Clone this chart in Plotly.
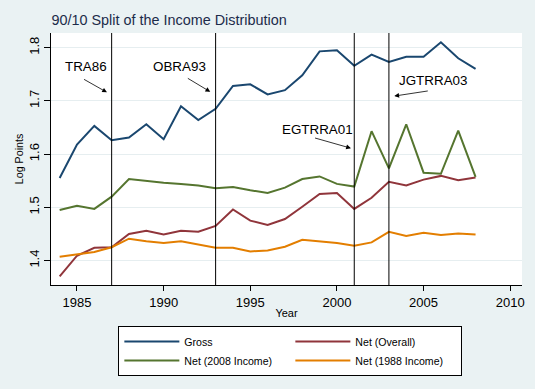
import plotly.graph_objects as go

years = list(range(1984, 2009))
gross = [1.555, 1.618, 1.653, 1.626, 1.631, 1.656, 1.628, 1.690, 1.664, 1.685,
         1.728, 1.731, 1.712, 1.720, 1.748, 1.793, 1.795, 1.766, 1.787, 1.773,
         1.783, 1.783, 1.810, 1.780, 1.760]
net_overall = [1.370, 1.409, 1.424, 1.425, 1.450, 1.456, 1.449, 1.456, 1.454, 1.465,
               1.496, 1.475, 1.467, 1.478, 1.501, 1.525, 1.527, 1.497, 1.518, 1.548,
               1.541, 1.552, 1.559, 1.551, 1.556]
net_2008 = [1.495, 1.503, 1.497, 1.520, 1.553, 1.549, 1.546, 1.544, 1.541, 1.536,
            1.538, 1.532, 1.527, 1.537, 1.553, 1.558, 1.544, 1.539, 1.643, 1.573,
            1.656, 1.565, 1.563, 1.644, 1.557]
net_1988 = [1.407, 1.412, 1.416, 1.425, 1.441, 1.436, 1.433, 1.436, 1.430, 1.424,
            1.424, 1.417, 1.419, 1.426, 1.439, 1.436, 1.433, 1.428, 1.434, 1.454,
            1.446, 1.452, 1.448, 1.451, 1.449]

series_names = ["Gross", "Net (Overall)", "Net (2008 Income)", "Net (1988 Income)"]
series_colors = ["#1a476f", "#90353b", "#55752f", "#e37e00"]

law_years = [1987, 1993, 2001, 2003]
law_labels = ["TRA86", "OBRA93", "EGTRRA01", "JGTRRA03"]
# text position (x, y), arrow tail (x, y), arrow head (x, y)
label_pos = [(1985.54, 1.764), (1990.93, 1.764), (1998.87, 1.647), (2005.53, 1.739)]
arrow_tail = [(1985.32, 1.742), (1991.31, 1.744), (1998.65, 1.631), (2005.33, 1.719)]
arrow_head = [(1986.73, 1.716), (1992.69, 1.717), (2000.81, 1.611), (2003.31, 1.709)]

x_ticks = [1985, 1990, 1995, 2000, 2005, 2010]
y_ticks = [1.4, 1.5, 1.6, 1.7, 1.8]

FONT = "Liberation Sans, Arial, sans-serif"

fig = go.Figure()
for name, vals, col in zip(series_names, [gross, net_overall, net_2008, net_1988], series_colors):
    fig.add_trace(go.Scatter(x=years, y=vals, mode="lines", name=name,
                             line=dict(color=col, width=2)))

for yr in law_years:
    fig.add_vline(x=yr, line_color="black", line_width=1)

for lab, (tx, ty), (ax, ay), (hx, hy) in zip(law_labels, label_pos, arrow_tail, arrow_head):
    fig.add_annotation(x=tx, y=ty, xref="x", yref="y", text=lab, showarrow=False,
                       font=dict(size=13.4, color="black", family=FONT))
    fig.add_annotation(x=hx, y=hy, ax=ax, ay=ay, xref="x", yref="y", axref="x", ayref="y",
                       text="", showarrow=True, arrowhead=2, arrowsize=1.2,
                       arrowwidth=0.8, arrowcolor="black")

fig.update_layout(
    width=535, height=389,
    margin=dict(l=51, r=13.3, t=32.7, b=104, autoexpand=False),
    paper_bgcolor="#eaf2f3",
    plot_bgcolor="white",
    font=dict(family=FONT, color="black"),
    title=dict(text="90/10 Split of the Income Distribution", xref="container", yref="container",
               x=51.5/535, xanchor="left", y=1 - 20/389, yanchor="middle",
               font=dict(size=14.4, color="#1c2b4a", family=FONT)),
    showlegend=True,
    legend=dict(orientation="h", xref="paper", yref="paper", x=0.143, xanchor="left",
                y=-0.1625, yanchor="top", bgcolor="white", bordercolor="black", borderwidth=1,
                entrywidth=101, entrywidthmode="pixels", itemwidth=55,
                font=dict(size=10.6, family=FONT, color="black"),
                traceorder="normal"),
)

fig.update_xaxes(range=[1983.5, 2010.68], tickvals=x_ticks, ticks="outside", ticklen=5,
                 tickcolor="black", showline=True, linecolor="black", linewidth=1,
                 showgrid=False, zeroline=False, tickfont=dict(size=13),
                 title=dict(text="Year", font=dict(size=11), standoff=0))
fig.update_yaxes(range=[1.354, 1.8275], tickvals=y_ticks, ticktext=["1.4", "1.5", "1.6", "1.7", "1.8"],
                 ticks="outside", ticklen=6, tickcolor="black", tickangle=-90,
                 showline=True, linecolor="black", linewidth=1,
                 showgrid=True, gridcolor="#e6eef0", gridwidth=1, zeroline=False,
                 tickfont=dict(size=13),
                 title=dict(text="Log Points", font=dict(size=10.7), standoff=1))

fig.write_html("out.html", config={"displayModeBar": False},
               post_script="document.body.style.margin='0';")
